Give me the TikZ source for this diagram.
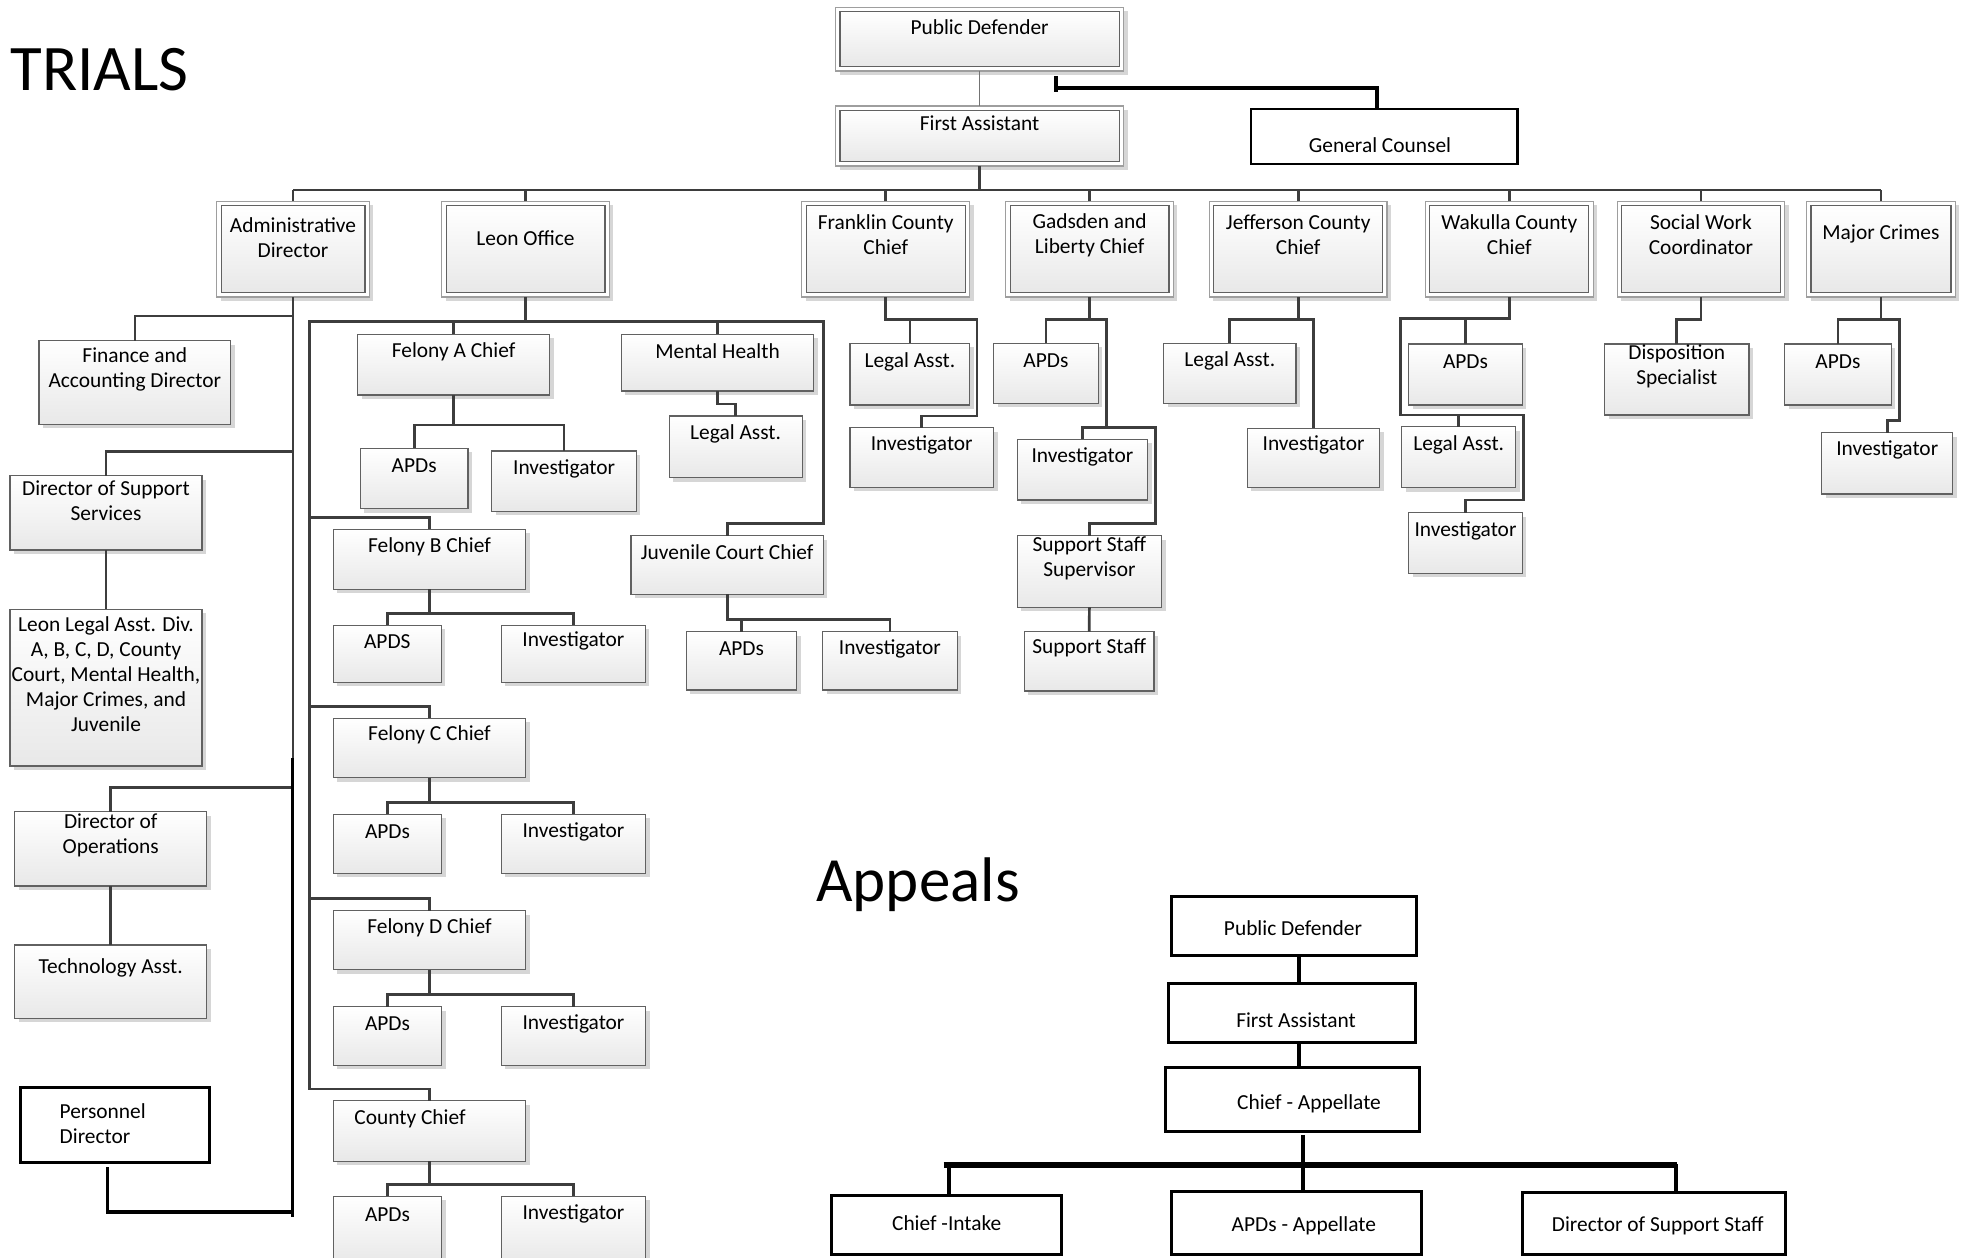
\documentclass[tikz,border=0pt]{standalone}
\usepackage{fontspec}
\setmainfont{Carlito}
\usetikzlibrary{fit,shadows}

\tikzset{
  conn/.style={draw=black!76, line width=1.35pt},
  thinconn/.style={draw=black!55, line width=0.8pt},
  heavy/.style={draw=black, line width=1.6pt},
  aline/.style={draw=black, line width=2pt},
  abar/.style={draw=black, line width=3pt},
  card/.style={inner sep=0pt, outer sep=0pt, draw=black!62, line width=0.6pt,
    top color=white, bottom color=black!9,
    drop shadow={shadow xshift=2pt, shadow yshift=-2pt, fill=black!16, opacity=1}},
  dout/.style={inner sep=0pt, outer sep=0pt, draw=black!38, line width=0.6pt, fill=white,
    drop shadow={shadow xshift=2pt, shadow yshift=-2pt, fill=black!16, opacity=1}},
  din/.style={outer sep=0pt, draw=black!62, line width=0.6pt,
    top color=white, bottom color=black!9},
  boldbox/.style={inner sep=0pt, outer sep=0pt, draw=black, line width=1.5pt, fill=white},
  lbl/.style={inner sep=0pt, align=center, font=\fontsize{10.7}{12.5}\selectfont},
  heading/.style={inner sep=0pt, anchor=base west, font=\fontsize{32.5}{38}\selectfont},
}

% single-border card: style, name, x1, y1, x2, y2, text y, text
\newcommand\crd[8]{%
  \node[#1, fit={(#3,#4) (#5,#6)}] (#2) {};
  \node[lbl] (#2-t) at ({(#3+#5)/2},#7) {#8};}
% double-border card: name, x1, y1, x2, y2, text y, text
\newcommand\dcrd[7]{%
  \node[dout, fit={(#2,#3) (#4,#5)}] (#1) {};
  \node[din, fit=(#1), inner sep=-2.2pt] (#1-in) {};
  \node[lbl] (#1-t) at ({(#2+#4)/2},#6) {#7};}

\begin{document}
\begin{tikzpicture}[x=0.5pt,y=-0.5pt]
\path[use as bounding box, clip] (0,0) rectangle (1963,1257);
\fill[white] (0,0) rectangle (1963,1257);

% ---------------- headings
\node[heading] (trials) at (10,91) {TRIALS};
\node[heading, font=\fontsize{31.5}{37}\selectfont] (appeals) at (816,901) {Appeals};

% ---------------- top of the trial office
\dcrd{pd}{835.6}{7.3}{1123.6}{71}{27}{Public Defender}
\dcrd{fa}{835.6}{106}{1123.6}{166}{123}{First Assistant}
\node[boldbox, line width=1.2pt, fit={(1250.8,109.3) (1517.3,164.3)}] (gc) {};
\node[lbl] (gc-t) at (1380,145) {General Counsel};

\dcrd{admin}{216.7}{201.5}{369.3}{297}{238}{Administrative\\Director}
\dcrd{leon}{441.7}{201.5}{609.3}{297}{238.3}{Leon Office}
\dcrd{frank}{801.7}{201.5}{969.8}{297}{234.8}{Franklin County\\Chief}
\dcrd{gads}{1005.8}{201.5}{1173.4}{297}{234.8}{Gadsden and\\Liberty Chief}
\dcrd{jeff}{1209.4}{201.5}{1387}{297}{234.8}{Jefferson County\\Chief}
\dcrd{wak}{1425.4}{201.5}{1593.1}{297}{234.8}{Wakulla County\\Chief}
\dcrd{sw}{1617.3}{201.5}{1784.6}{297}{234.8}{Social Work\\Coordinator}
\dcrd{mc}{1806.5}{201.5}{1955.3}{297}{234.3}{Major Crimes}

% ---------------- administration column
\crd{card}{fin}{39}{340.7}{230.7}{424.3}{369.2}{Finance and\\Accounting Director}
\crd{card}{dss}{10}{475.7}{202}{550}{500.5}{Director of Support\\Services}
\crd{card}{llad}{10}{609.3}{202}{766}{674.5}{Leon Legal Asst. Div.\\A, B, C, D, County\\Court, Mental Health,\\Major Crimes, and\\Juvenile}
\crd{card}{dops}{14.7}{811.7}{206.7}{886}{835.8}{Director of\\Operations}
\crd{card}{tech}{14.7}{945}{206.7}{1018.3}{968.3}{Technology Asst.}
\node[boldbox, fit={(20.7,1087.3) (209.3,1162.7)}] (pers) {};
\node[lbl, anchor=west, align=left] (pers-t) at (59.3,1123.7) {Personnel\\Director};

% ---------------- Leon office
\crd{card}{felA}{357.5}{334.3}{549.7}{395}{351.7}{Felony A Chief}
\crd{card}{faapd}{360.3}{448.3}{468}{508.7}{465.7}{APDs}
\crd{card}{fainv}{491.8}{451}{636.4}{511.3}{469}{Investigator}
\crd{card}{mh}{621.3}{334.3}{813.8}{391}{350.7}{Mental Health}
\crd{card}{mhla}{669.1}{416}{802.1}{477.7}{434}{Legal Asst.}
\crd{card}{juv}{630.9}{535.7}{823.4}{594.3}{552.3}{Juvenile Court Chief}
\crd{card}{juvapd}{686.4}{631.7}{796.6}{690}{648.3}{APDs}
\crd{card}{juvinv}{822.7}{631.7}{957.1}{690}{649.3}{Investigator}
\crd{card}{felB}{333.4}{529.3}{525.6}{589.3}{546.7}{Felony B Chief}
\crd{card}{fbapd}{333.4}{625.3}{441.2}{682.3}{641.7}{APDS}
\crd{card}{fbinv}{501.4}{625.3}{645.4}{682.3}{641}{Investigator}
\crd{card}{felC}{333.3}{718.2}{525.7}{777.5}{735.2}{Felony C Chief}
\crd{card}{fcapd}{333.3}{814.4}{441.7}{873.4}{831.8}{APDs}
\crd{card}{fcinv}{501.3}{814.4}{645.7}{873.4}{831.8}{Investigator}
\crd{card}{felD}{333.3}{910.6}{525.7}{969.6}{927.6}{Felony D Chief}
\crd{card}{fdapd}{333.3}{1006.8}{441.7}{1065.4}{1023.5}{APDs}
\crd{card}{fdinv}{501.3}{1006.8}{645.7}{1065.4}{1023.5}{Investigator}
\node[card, fit={(333.3,1100.5) (525.7,1161.2)}] (cc) {};
\node[lbl] (cc-t) at (410,1118.6) {County Chief};
\crd{card}{ccapd}{333.3}{1196.3}{441.7}{1264}{1214.4}{APDs}
\crd{card}{ccinv}{501.3}{1196.3}{645.7}{1264}{1214.4}{Investigator}

% ---------------- county offices
\crd{card}{fla}{850}{343.3}{969.8}{405}{361.7}{Legal Asst.}
\crd{card}{finv}{850}{427.7}{993.5}{487.3}{445}{Investigator}
\crd{card}{gapd}{993.5}{343.3}{1098.3}{403.3}{361}{APDs}
\crd{card}{ginv}{1017.2}{439.3}{1147.7}{500}{456.7}{Investigator}
\crd{card}{gsss}{1017.2}{535.7}{1161.6}{607.3}{558.7}{Support Staff\\Supervisor}
\crd{card}{gss}{1024.4}{631.7}{1154}{691}{648.3}{Support Staff}
\crd{card}{jla}{1163.6}{343.3}{1296}{403.3}{361}{Legal Asst.}
\crd{card}{jinv}{1247.4}{428.3}{1379.8}{487.3}{445}{Investigator}
\crd{card}{wapd}{1408.6}{344}{1522.4}{405}{361.7}{APDs}
\crd{card}{wla}{1401.6}{426.7}{1515.7}{487.7}{445}{Legal Asst.}
\crd{card}{winv}{1408.6}{512.7}{1522.4}{573.3}{530.7}{Investigator}
\crd{card}{disp}{1604.6}{344}{1748.9}{415}{366.7}{Disposition\\Specialist}
\crd{card}{mapd}{1784.6}{344}{1891.3}{405}{361.7}{APDs}
\crd{card}{minv}{1821.8}{432.7}{1952.7}{494}{450}{Investigator}

% ---------------- connectors, trial office
\coordinate (bus) at (0,190);
\draw[thinconn] (pd.south) -- (fa.north);
\draw[conn] (fa.south) -- (fa.south |- bus);
\draw[conn] (admin.north |- bus) -- (mc.north |- bus);
\foreach \n in {admin,leon,frank,gads,jeff,wak,sw,mc}
  \draw[conn] (\n.north) -- (\n.north |- bus);

\coordinate (gcend) at (1056,88.3);
\draw[line width=2pt] ([xshift=-3.5pt]gc.north) |- (gcend);
\draw[line width=2pt] ([yshift=6.2pt]gcend) -- ([yshift=-2pt]gcend);

% administration
\draw[conn] (admin.south) -- (admin.south |- 0,787.3);
\draw[conn] (fin.north) |- (admin.south |- 0,316);
\draw[conn] (dss.north) |- (admin.south |- 0,451.7);
\draw[conn] (dops.north) |- (admin.south |- 0,787.3);
\draw[conn] (dss.south) -- (llad.north);
\draw[conn] (dops.south) -- (tech.north);
\coordinate (ptail) at (292.5,758);
\coordinate (pfoot) at (292.5,1217);
\coordinate (pjoin) at (290.5,1212);
\draw[heavy] (ptail) -- (pfoot);
\draw[heavy] ([xshift=-3.65pt,yshift=-2.2pt]pers.south) |- (pjoin);

% Leon office
\coordinate (leonL) at (309.6,321.7);
\coordinate (leonR) at (823.4,321.7);
\draw[conn] (leon.south) -- (leon.south |- leonL);
\draw[conn] (cc.north) |- (leonL |- 0,1088.9) -- (leonL) -- (leonR)
  |- (juv.north |- 0,523.3) -- (juv.north);
\draw[conn] (felA.north) -- (felA.north |- leonL);
\draw[conn] (mh.north) -- (mh.north |- leonL);
\draw[conn] (felB.north) |- (leonL |- 0,517.3);
\draw[conn] (felC.north) |- (leonL |- 0,706.3);
\draw[conn] (felD.north) |- (leonL |- 0,898.3);
\draw[conn] (felA.south) -- (felA.south |- 0,425);
\draw[conn] (faapd.north) |- (fainv.north |- 0,425) -- (fainv.north);
\draw[conn] (felB.south) -- (felB.south |- 0,613.3);
\draw[conn] (fbapd.north) |- (fbinv.north |- 0,613.3) -- (fbinv.north);
\draw[conn] (felC.south) -- (felC.south |- 0,802.5);
\draw[conn] (fcapd.north) |- (fcinv.north |- 0,802.5) -- (fcinv.north);
\draw[conn] (felD.south) -- (felD.south |- 0,994.5);
\draw[conn] (fdapd.north) |- (fdinv.north |- 0,994.5) -- (fdinv.north);
\draw[conn] (cc.south) -- (cc.south |- 0,1184.8);
\draw[conn] (ccapd.north) |- (ccinv.north |- 0,1184.8) -- (ccinv.north);
\draw[conn] (mh.south) |- (mhla.north |- 0,404) -- (mhla.north);
\draw[conn] (juv.south) |- (juvinv.north |- 0,619.3) -- (juvinv.north);
\draw[conn] (juvapd.north) -- (juvapd.north |- 0,619.3);

% Franklin
\draw[conn] (frank.south) |- (976.9,319.3) |- (finv.north |- 0,416) -- (finv.north);
\draw[conn] (fla.north) -- (fla.north |- 0,319.3);
% Gadsden and Liberty
\draw[conn] (gads.south) -- (gads.south |- 0,319.3);
\draw[conn] (gapd.north) |- (1106.2,319.3) |- (1155.6,427.3)
  |- (gsss.north |- 0,523.3) -- (gsss.north);
\draw[conn] (ginv.north) |- (1106.2,427.3);
\draw[conn] (gsss.south) -- (gss.north);
% Jefferson
\draw[conn] (jeff.south) -- (jeff.south |- 0,319.3);
\draw[conn] (jla.north) |- (jinv.north |- 0,319.3) -- (jinv.north);
% Wakulla
\draw[conn] (wak.south) |- (1400.5,318.3) |- (1523.2,415)
  |- (winv.north |- 0,500) -- (winv.north);
\draw[conn] (wapd.north) -- (wapd.north |- 0,318.3);
\draw[conn] (wla.north) -- (wla.north |- 0,415);
% Social work
\draw[conn] (sw.south) |- (disp.north |- 0,319.3) -- (disp.north);
% Major crimes
\draw[conn] (mc.south) -- (mc.south |- 0,319.3);
\draw[conn] (mapd.north) |- (1899.5,319.3) |- (minv.north |- 0,420.7) -- (minv.north);

% ---------------- appeals office
\node[boldbox, fit={(1171.2,896.7) (1416.7,955.7)}] (apd) {};
\node[lbl] (apd-t) at (1293,927.7) {Public Defender};
\node[boldbox, fit={(1168,983.3) (1415.4,1042.3)}] (afa) {};
\node[lbl] (afa-t) at (1296,1020.7) {First Assistant};
\node[boldbox, fit={(1165.4,1067.7) (1419.9,1131.7)}] (ach) {};
\node[lbl] (ach-t) at (1309,1103.3) {Chief - Appellate};
\node[boldbox, fit={(831.9,1195.7) (1061.5,1254.5)}] (aint) {};
\node[lbl] (aint-t) at (946.7,1223.3) {Chief -Intake};
\node[boldbox, fit={(1171.2,1191.7) (1421.8,1254.5)}] (aapd) {};
\node[lbl] (aapd-t) at (1303.8,1225.7) {APDs - Appellate};
\node[boldbox, fit={(1522.6,1192.7) (1785.3,1254.5)}] (adss) {};
\node[lbl] (adss-t) at (1657.8,1225.7) {Director of Support Staff};

\draw[aline] ([xshift=2.7pt]apd.south) -- ([xshift=2.7pt]apd.south |- afa.north);
\draw[aline] ([xshift=3.5pt]afa.south) -- ([xshift=3.5pt]afa.south |- ach.north);
\draw[aline] ([xshift=5pt,yshift=-1.6pt]ach.south) -- ([xshift=5pt]ach.south |- aapd.north);
\draw[abar] ([xshift=-1.6pt]aint.north |- 0,1165) -- ([xshift=11.6pt]adss.north |- 0,1165);
\draw[aline] ([xshift=1pt]aint.north) -- ([xshift=1pt]aint.north |- 0,1165);
\draw[aline] ([xshift=10.8pt]adss.north) -- ([xshift=10.8pt]adss.north |- 0,1164);
\end{tikzpicture}
\end{document}
